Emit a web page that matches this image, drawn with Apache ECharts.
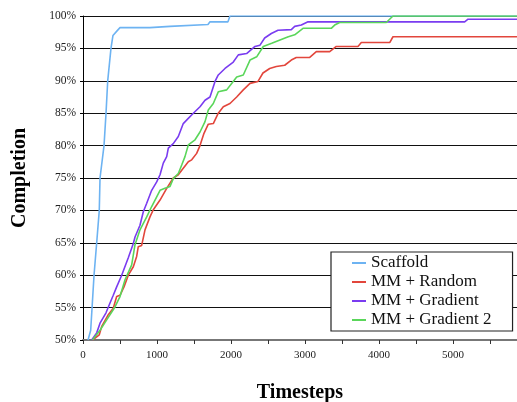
<!DOCTYPE html>
<html><head><meta charset="utf-8">
<script src="https://cdn.jsdelivr.net/npm/echarts@6/dist/echarts.min.js"></script>
<style>html,body{margin:0;padding:0;background:#fff}#c{width:517px;height:402px}</style>
</head><body><div id="c"></div>
<script>
const seriesNames = ['Scaffold', 'MM + Random', 'MM + Gradient', 'MM + Gradient 2'];
const seriesColors = ['#6db3f2', '#e2463c', '#7a3cf0', '#5ad65a'];
const yTicks = [50, 55, 60, 65, 70, 75, 80, 85, 90, 95, 100];
const xTickLabels = [0, 1000, 2000, 3000, 4000, 5000];

const scaffold = [
  [68,50],[104,51.5],[122,54.9],[149,60],[185,65],[220,70],[230,75],[284,80],[311,85],[334,90],
  [378,95],[405,97],[460,97.7],[500,98.2],[905,98.2],[932,98.4],[1176,98.4],[1203,98.7],
  [1689,98.7],[1716,99.1],[1959,99.1],[1986,100],[5865,100]
];
const mmRandom = [
  [128,50],[220,50.8],[253,52.1],[342,53.9],[409,54.9],[455,56.7],[500,56.9],[554,58.2],[612,60],
  [680,61.3],[725,62.9],[747,64.4],[793,64.6],[838,67.0],[905,69.0],[950,70.1],[1041,71.6],
  [1131,73.4],[1220,75.0],[1288,75.5],[1355,76.5],[1423,77.5],[1469,77.8],[1536,78.8],[1581,80.0],
  [1635,81.9],[1693,83.3],[1761,83.4],[1828,85.0],[1896,86.0],[1986,86.5],[2077,87.5],[2166,88.6],
  [2257,89.6],[2365,89.9],[2432,91.2],[2523,91.9],[2612,92.2],[2726,92.4],[2815,93.2],[2882,93.6],
  [3064,93.6],[3153,94.5],[3334,94.5],[3423,95.3],[3716,95.3],[3761,95.9],[4145,95.9],[4189,96.8],
  [5865,96.8]
];
const mmGradient = [
  [118,50],[185,51.1],[230,52.6],[311,54.2],[365,55.7],[409,56.9],[455,58.2],[523,60],[612,62.7],
  [680,64.9],[703,65.9],[770,67.7],[815,69.8],[861,71.1],[928,73.1],[996,74.4],[1041,75.5],
  [1085,77.3],[1131,78.3],[1153,79.6],[1220,80.3],[1288,81.4],[1355,83.4],[1423,84.2],[1491,85.0],
  [1581,86.0],[1649,87.0],[1716,87.5],[1784,89.9],[1828,90.9],[1919,91.9],[2031,92.9],[2099,94.0],
  [2211,94.2],[2324,95.3],[2392,95.5],[2455,96.6],[2545,97.3],[2635,97.8],[2815,97.9],[2861,98.4],
  [2950,98.6],[3041,99.1],[5158,99.1],[5203,99.5],[5865,99.5]
];
const mmGradient2 = [
  [128,50],[230,51.5],[320,53.1],[432,55.1],[500,56.7],[568,59.3],[658,61.6],[703,64.7],[770,67.0],
  [861,69.0],[928,70.6],[996,72.1],[1041,73.1],[1108,73.4],[1176,73.7],[1220,74.9],[1288,75.7],
  [1334,77.0],[1378,78.3],[1423,80.1],[1514,80.9],[1581,82.1],[1649,83.7],[1693,85.5],[1761,86.5],
  [1828,88.3],[1942,88.6],[2009,89.6],[2077,90.6],[2166,90.9],[2257,93.2],[2347,93.7],[2436,95.3],
  [2550,95.8],[2662,96.3],[2774,96.8],[2861,97.1],[2973,98.1],[3355,98.1],[3401,98.6],[3469,99.0],
  [4099,99.0],[4189,100],[5865,100]
];
const allData = [scaffold, mmRandom, mmGradient, mmGradient2];

const chart = echarts.init(document.getElementById('c'), null, {renderer: 'canvas'});
const serif = '"Liberation Serif", "DejaVu Serif", serif';
chart.setOption({
  animation: false,
  backgroundColor: '#fff',
  grid: {left: 83, top: 16, right: 0, bottom: 62, containLabel: false, outerBoundsMode: 'none'},
  legend: {
    orient: 'vertical', left: 331, top: 252,
    padding: [2, 21, 2, 21],
    itemGap: 1,
    itemWidth: 14, itemHeight: 2,
    icon: 'rect',
    borderColor: '#222', borderWidth: 1.2, backgroundColor: '#fff',
    textStyle: {fontFamily: serif, fontSize: 17, color: '#111', lineHeight: 18},
    data: seriesNames
  },
  xAxis: {
    type: 'value', min: 0, max: 5865, interval: 500,
    name: 'Timesteps', nameLocation: 'middle', nameGap: 43,
    nameTextStyle: {fontFamily: serif, fontSize: 20, fontWeight: 'bold', color: '#000'},
    axisLine: {lineStyle: {color: '#777', width: 2}},
    axisTick: {show: true, length: 4, lineStyle: {color: '#333'}},
    splitLine: {show: false},
    axisLabel: {
      fontFamily: serif, fontSize: 11, color: '#222', margin: 10,
      formatter: v => xTickLabels.includes(v) ? String(v) : ''
    }
  },
  yAxis: {
    type: 'value', min: yTicks[0], max: yTicks[yTicks.length - 1], interval: 5,
    name: 'Completion', nameLocation: 'middle', nameGap: 53, nameRotate: 90,
    nameTextStyle: {fontFamily: serif, fontSize: 20, fontWeight: 'bold', color: '#000'},
    axisLine: {show: true, lineStyle: {color: '#000', width: 1}},
    axisTick: {show: true, length: 3, lineStyle: {color: '#000'}},
    splitLine: {show: true, lineStyle: {color: '#111', width: 1}},
    axisLabel: {fontFamily: serif, fontSize: 11.5, color: '#222', margin: 7, formatter: v => v + '%'}
  },
  series: seriesNames.map((n, i) => ({
    name: n, type: 'line', data: allData[i], showSymbol: false, symbol: 'none',
    lineStyle: {color: seriesColors[i], width: 1.6},
    itemStyle: {color: seriesColors[i]},
    z: 2 + i
  }))
});
</script></body></html>
